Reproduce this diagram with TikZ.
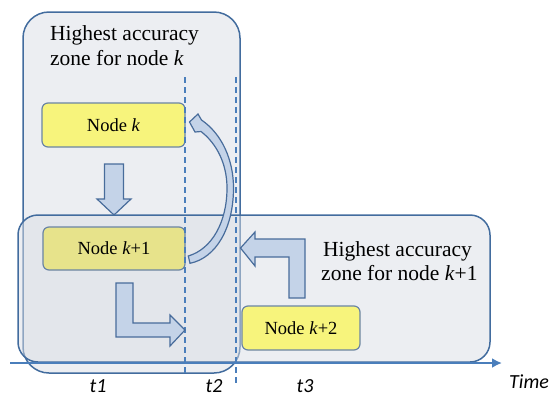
\documentclass[tikz,border=0pt]{standalone}
\usepackage{fontspec}
\setmainfont{Liberation Serif}
\newfontfamily\labfont{Carlito}
\usetikzlibrary{arrows.meta}
\definecolor{zoneline}{RGB}{66,108,158}
\definecolor{zonefill}{RGB}{218,222,229}
\definecolor{arrfill}{RGB}{196,211,232}
\definecolor{arrline}{RGB}{72,108,155}
\definecolor{nodefill}{RGB}{247,244,124}
\definecolor{nodefilldim}{RGB}{231,227,139}
\definecolor{nodeline}{RGB}{106,132,164}
\definecolor{axisblue}{RGB}{74,126,187}
\begin{document}
\begin{tikzpicture}[x=1pt,y=-1pt,
  zone/.style={draw=zoneline,line width=1.5pt,fill=zonefill,fill opacity=0.5,rounded corners=#1,inner sep=0pt},
  nodebox/.style={draw=nodeline,line width=1.2pt,rounded corners=6pt,inner sep=0pt,font=\fontsize{18.5}{22}\selectfont},
  title/.style={font=\fontsize{21.5}{25}\selectfont,anchor=base west,inner sep=0pt},
  tlab/.style={font=\labfont\itshape\fontsize{20}{24}\selectfont,anchor=base,inner sep=0pt},
  blockarrow/.style={draw=arrline,fill=arrfill,line width=1.2pt,line join=miter},
  tline/.style={draw=axisblue,line width=1.4pt,dash pattern=on 6pt off 4pt},
  axis/.style={draw=axisblue,line width=2.2pt,-{Latex[length=10pt,width=10pt]}}]
\useasboundingbox (0,0) rectangle (551,397);
% zones
\node[zone=26pt,minimum width=217pt,minimum height=361pt] (zk) at (131.5,192.5) {};
\node[zone=20pt,minimum width=472pt,minimum height=147pt] (zk1) at (254,288.5) {};
% titles
\node[title] (tka) at (50,40) {Highest accuracy};
\node[title] (tkb) at (50,65) {zone for node \textit{k}};
\node[title] (tla) at (323,256) {Highest accuracy};
\node[title] (tlb) at (321,280) {zone for node \textit{k}+1};
% nodes
\node[nodebox,fill=nodefill,minimum width=143pt,minimum height=44pt] (nk) at (113.5,125) {Node \textit{k}};
\node[nodebox,fill=nodefilldim,minimum width=142pt,minimum height=43pt] (nk1) at (114,248.5) {Node \textit{k}+1};
\node[nodebox,fill=nodefill,minimum width=118pt,minimum height=44pt] (nk2) at (301,328) {Node \textit{k}+2};
% dashed time boundaries
\coordinate (d2t) at (185,77);
\coordinate (d2b) at (185,376);
\coordinate (d3t) at (236,77);
\coordinate (d3b) at (236,386);
\draw[tline] (d2t) -- (d2b);
\draw[tline] (d3t) -- (d3b);
% block arrows
\draw[blockarrow] (104.5,164) -- (123.5,164) -- (123.5,199) -- (131,199) -- (114,215) -- (97,199) -- (104.5,199) -- cycle;
\draw[blockarrow] (116,283) -- (133,283) -- (133,323) -- (170,323) -- (170,315) -- (185,330) -- (170,346) -- (170,337) -- (116,337) -- cycle;
\draw[blockarrow] (305,298) -- (289,298) -- (289,257) -- (255,257) -- (255,266) -- (240.5,248) -- (255,232) -- (255,239) -- (305,239) -- cycle;
\draw[blockarrow] (188.3,256) .. controls (212,249) and (227,222) .. (227,188)
  .. controls (227,163) and (216,143) .. (201,131.5) -- (195,132) -- (189.5,122) -- (198,114) -- (201.5,120)
  .. controls (222,134) and (233.5,160) .. (233.5,188)
  .. controls (233.5,228) and (216,258) .. (190,263.3) -- cycle;
% time axis
\coordinate (a0) at (10,363);
\coordinate (a1) at (502,363);
\draw[axis] (a0) -- (a1);
\node[tlab] (t1) at (98,392) {t1};
\node[tlab] (t2) at (214,392) {t2};
\node[tlab] (t3) at (305,392) {t3};
\node[tlab,anchor=base west] (time) at (509,388) {Time};
\end{tikzpicture}
\end{document}
